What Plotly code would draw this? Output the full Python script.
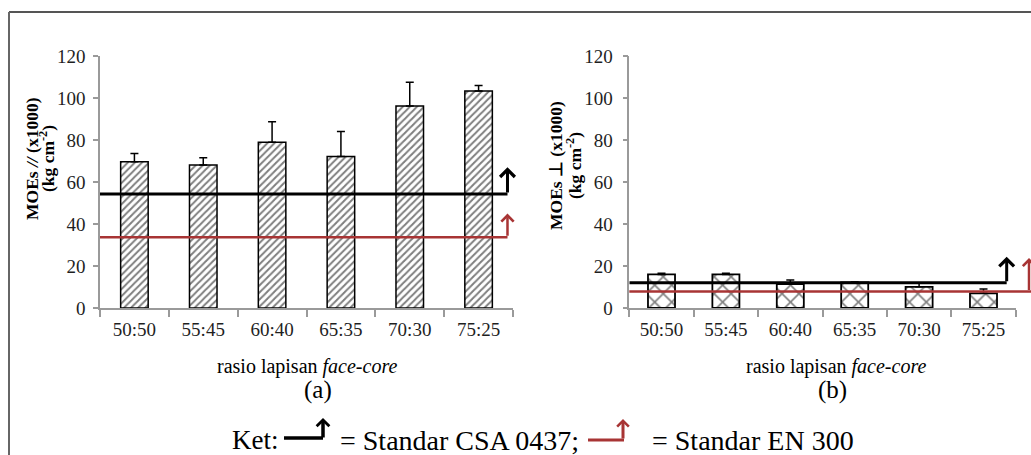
import plotly.graph_objects as go

# ---------------- data ----------------
categories = ["50:50", "55:45", "60:40", "65:35", "70:30", "75:25"]
moe_par = [69.7, 68.1, 78.9, 72.1, 96.2, 103.3]
moe_par_err = [3.9, 3.5, 9.8, 11.9, 11.3, 2.7]
moe_perp = [16.0, 16.0, 11.4, 12.2, 10.1, 7.0]
moe_perp_err = [0.5, 0.5, 1.9, 0.2, 1.9, 2.0]
csa_par = 54.3      # Standar CSA 0437 (//)
en_par = 33.7       # Standar EN 300 (//)
csa_perp = 12.0     # Standar CSA 0437 (perp)
en_perp = 7.8       # Standar EN 300 (perp)
y_ticks = [0, 20, 40, 60, 80, 100, 120]

W, H = 1031, 455
def px(x):
    return x / W
def py(y):
    return 1 - y / H

FONT = "Liberation Serif, Times New Roman, Times, serif"
TXT = "#1f1f1f"
AXC = "#9a9a9a"

fig = go.Figure()

fig.add_trace(go.Bar(
    x=categories, y=moe_par, width=0.4, xaxis="x", yaxis="y",
    marker=dict(color="white", line=dict(color="black", width=1.5),
                pattern=dict(shape="/", fgcolor="black", bgcolor="white", size=5, solidity=0.4)),
    error_y=dict(type="data", symmetric=False, array=moe_par_err, arrayminus=[0] * 6,
                 color="black", thickness=1.5, width=4),
    showlegend=False, hoverinfo="skip"))

fig.add_trace(go.Bar(
    x=categories, y=moe_perp, width=0.42, xaxis="x2", yaxis="y2",
    marker=dict(color="white", line=dict(color="black", width=1.8),
                pattern=dict(shape="x", fgcolor="black", bgcolor="white", size=12, solidity=0.25)),
    error_y=dict(type="data", symmetric=False, array=moe_perp_err, arrayminus=[0] * 6,
                 color="black", thickness=1.5, width=4),
    showlegend=False, hoverinfo="skip"))

axis_common = dict(showgrid=False, zeroline=False, showline=True, linecolor=AXC, linewidth=1.5,
                   ticks="outside", tickcolor=AXC, tickwidth=1.5, fixedrange=True, automargin=False,
                   tickfont=dict(family=FONT, size=19, color=TXT))

fig.update_layout(
    width=W, height=H, autosize=False,
    margin=dict(l=0, r=0, t=0, b=0, autoexpand=False),
    paper_bgcolor="white", plot_bgcolor="white", showlegend=False,
    xaxis=dict(domain=[px(100), px(513)], type="category", range=[-0.5, 5.5],
               tickson="boundaries", ticklen=7, ticklabelstandoff=3, anchor="y", **axis_common),
    yaxis=dict(domain=[py(308), py(56)], range=[0, 120], tickvals=y_ticks, ticklen=5,
               ticklabelstandoff=4, anchor="x", **axis_common),
    xaxis2=dict(domain=[px(629.3), px(1015.7)], type="category", range=[-0.5, 5.5],
                tickson="boundaries", ticklen=7, ticklabelstandoff=3, anchor="y2", **axis_common),
    yaxis2=dict(domain=[py(308), py(56)], range=[0, 120], tickvals=y_ticks, ticklen=5,
                ticklabelstandoff=6, anchor="x2", **axis_common),
)

RED = "#a83434"
shapes = [
    # frame
    dict(type="line", xref="paper", yref="paper", x0=px(9), x1=1.0, y0=py(12), y1=py(12),
         line=dict(color="#555555", width=2)),
    dict(type="line", xref="paper", yref="paper", x0=px(9), x1=px(9), y0=py(12), y1=0,
         line=dict(color="#666666", width=2)),
    # standards (a)
    dict(type="line", xref="x", yref="y", x0=-0.5, x1=5.42, y0=csa_par, y1=csa_par,
         line=dict(color="black", width=3)),
    dict(type="line", xref="x", yref="y", x0=-0.5, x1=5.42, y0=en_par, y1=en_par,
         line=dict(color=RED, width=2.5)),
    # standards (b)
    dict(type="line", xref="x2", yref="y2", x0=-0.5, x1=5.36, y0=csa_perp, y1=csa_perp,
         line=dict(color="black", width=3)),
    dict(type="line", xref="paper", yref="y2", x0=px(629.3), x1=1.0, y0=en_perp, y1=en_perp,
         line=dict(color=RED, width=2.5)),
    # legend symbols
    dict(type="line", xref="paper", yref="paper", x0=px(284), x1=px(323), y0=py(438), y1=py(438),
         line=dict(color="black", width=3.5)),
    dict(type="line", xref="paper", yref="paper", x0=px(588), x1=px(624), y0=py(440), y1=py(440),
         line=dict(color=RED, width=3)),
]
fig.update_layout(shapes=shapes)

ann = []
def arrow(x, y, ax, ay, xref, yref, color, w, size=0.95):
    return dict(x=x, y=y, ax=ax, ay=ay, xref=xref, yref=yref,
                axref=xref if xref != "paper" else "pixel",
                ayref=yref if yref != "paper" else "pixel",
                text="", showarrow=True, arrowhead=4, arrowsize=size, arrowwidth=w,
                arrowcolor=color, standoff=0, startstandoff=0)

ann.append(arrow(5.42, csa_par + 12.7, 5.42, csa_par, "x", "y", "black", 3))
ann.append(arrow(5.42, en_par + 11.3, 5.42, en_par, "x", "y", RED, 2.5))
ann.append(arrow(5.36, csa_perp + 12.4, 5.36, csa_perp, "x2", "y2", "black", 3))
a = arrow(px(1029), en_perp + 16, 0, en_perp, "paper", "y2", RED, 2.5)
a["axref"] = "pixel"; a["ax"] = 0; a["ayref"] = "y2"
ann.append(a)
ann.append(arrow(px(323), py(418), 0, 21, "paper", "paper", "black", 3.5, size=0.7))
ann.append(arrow(px(623), py(419), 0, 21, "paper", "paper", RED, 3, size=0.75))

def text(x, y, s, size, xanchor="center", angle=0):
    return dict(x=px(x), y=py(y), xref="paper", yref="paper", text=s, showarrow=False,
                xanchor=xanchor, yanchor="middle", textangle=angle,
                font=dict(family=FONT, size=size, color="black"))

ann.append(text(32, 159, "<b>MOEs <i>//</i> (x1000)</b>", 17.5, angle=-90))
ann.append(text(47, 159, "<b>(kg cm<sup>-2</sup>)</b>", 17.5, angle=-90))
ann.append(text(556, 166, "<b>MOEs ⊥ (x1000)</b>", 17.5, angle=-90))
ann.append(text(574, 166, "<b>(kg cm<sup>-2</sup>)</b>", 17.5, angle=-90))
ann.append(text(307, 366, "rasio lapisan <i>face-core</i>", 20))
ann.append(text(836, 366, "rasio lapisan <i>face-core</i>", 20))
ann.append(text(318, 390, "(a)", 25))
ann.append(text(832, 390, "(b)", 25))
ann.append(text(230, 440, "Ket:", 27, xanchor="left"))
ann.append(text(338, 440, "= Standar CSA 0437;", 28, xanchor="left"))
ann.append(text(650, 440, "= Standar EN 300", 28, xanchor="left"))

fig.update_layout(annotations=ann)

fig.write_html("out.html")
